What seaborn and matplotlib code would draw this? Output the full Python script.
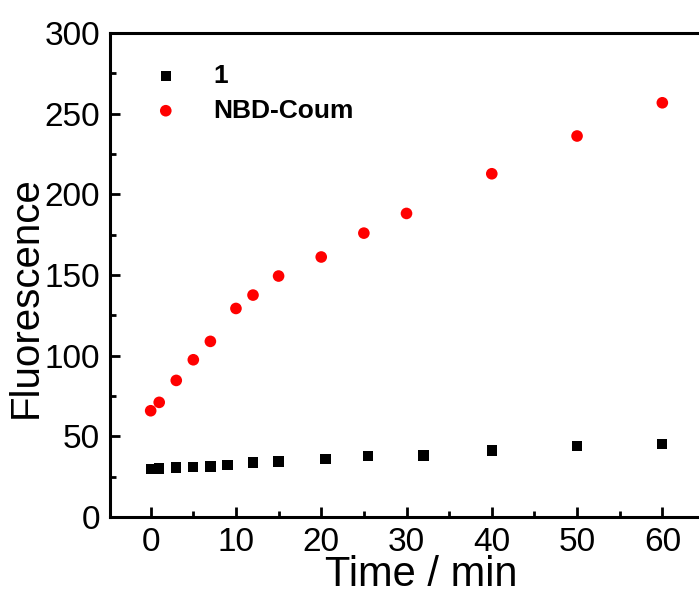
import matplotlib
matplotlib.use('Agg')
import matplotlib.pyplot as plt
import pandas as pd
import seaborn as sns
from matplotlib.ticker import MultipleLocator

# data
time_1 = [0, 1, 3, 5, 7, 9, 12, 15, 20.5, 25.5, 32, 40, 50, 60]
fluor_1 = [29.7, 30.1, 30.8, 31.0, 31.4, 32.1, 33.8, 34.4, 35.9, 37.8, 38.1, 41.2, 43.9, 45.3]
time_nbd = [0, 1, 3, 5, 7, 10, 12, 15, 20, 25, 30, 40, 50, 60]
fluor_nbd = [65.9, 71.1, 84.7, 97.5, 108.9, 129.3, 137.6, 149.4, 161.2, 176.0, 188.2, 212.8, 236.2, 256.8]

df_1 = pd.DataFrame({'Time': time_1, 'Fluorescence': fluor_1})
df_nbd = pd.DataFrame({'Time': time_nbd, 'Fluorescence': fluor_nbd})

sns.set_style("ticks")
plt.rcParams['font.family'] = ['Liberation Sans', 'DejaVu Sans']
plt.rcParams['text.color'] = 'black'
plt.rcParams['axes.labelcolor'] = 'black'
plt.rcParams['xtick.color'] = 'black'
plt.rcParams['ytick.color'] = 'black'

fig = plt.figure(figsize=(6.99, 5.95), dpi=100)
ax = fig.add_axes([0.157, 0.131, 0.843, 0.8134])

sns.scatterplot(data=df_1, x='Time', y='Fluorescence', marker='s', color='black',
                s=55, edgecolor='none', label='1', ax=ax)
sns.scatterplot(data=df_nbd, x='Time', y='Fluorescence', marker='o', color='#ff0000',
                s=70, edgecolor='none', label='NBD-Coum', ax=ax)

ax.set_xlim(-4.8, 64.3)
ax.set_ylim(0, 300)
ax.xaxis.set_major_locator(MultipleLocator(10))
ax.xaxis.set_minor_locator(MultipleLocator(5))
ax.yaxis.set_major_locator(MultipleLocator(50))
ax.yaxis.set_minor_locator(MultipleLocator(25))
ax.tick_params(which='both', direction='in', width=2, labelsize=24, color='black',
               labelcolor='black')
ax.tick_params(which='major', length=7, pad=7)
ax.tick_params(which='minor', length=4)
ax.tick_params(axis='y', which='both', right=False)
ax.tick_params(axis='x', which='both', top=False)

for side in ['left', 'bottom', 'top']:
    ax.spines[side].set_linewidth(2.2)
    ax.spines[side].set_color('black')
ax.spines['right'].set_visible(False)

ax.set_xlabel('Time / min', fontsize=30, labelpad=-2)
ax.set_ylabel('Fluorescence', fontsize=29, labelpad=0)
# the original axes run past the cropped right edge, so the labels sit off-centre
ax.xaxis.label.set_x(0.528)
ax.yaxis.label.set_y(0.455)

leg = ax.legend(loc='upper left', bbox_to_anchor=(0.01, 0.985), frameon=False,
                prop={'weight': 'bold', 'size': 19}, handletextpad=0.8,
                labelspacing=0.4, markerscale=1.0)

fig.savefig('out.png', dpi=100)
